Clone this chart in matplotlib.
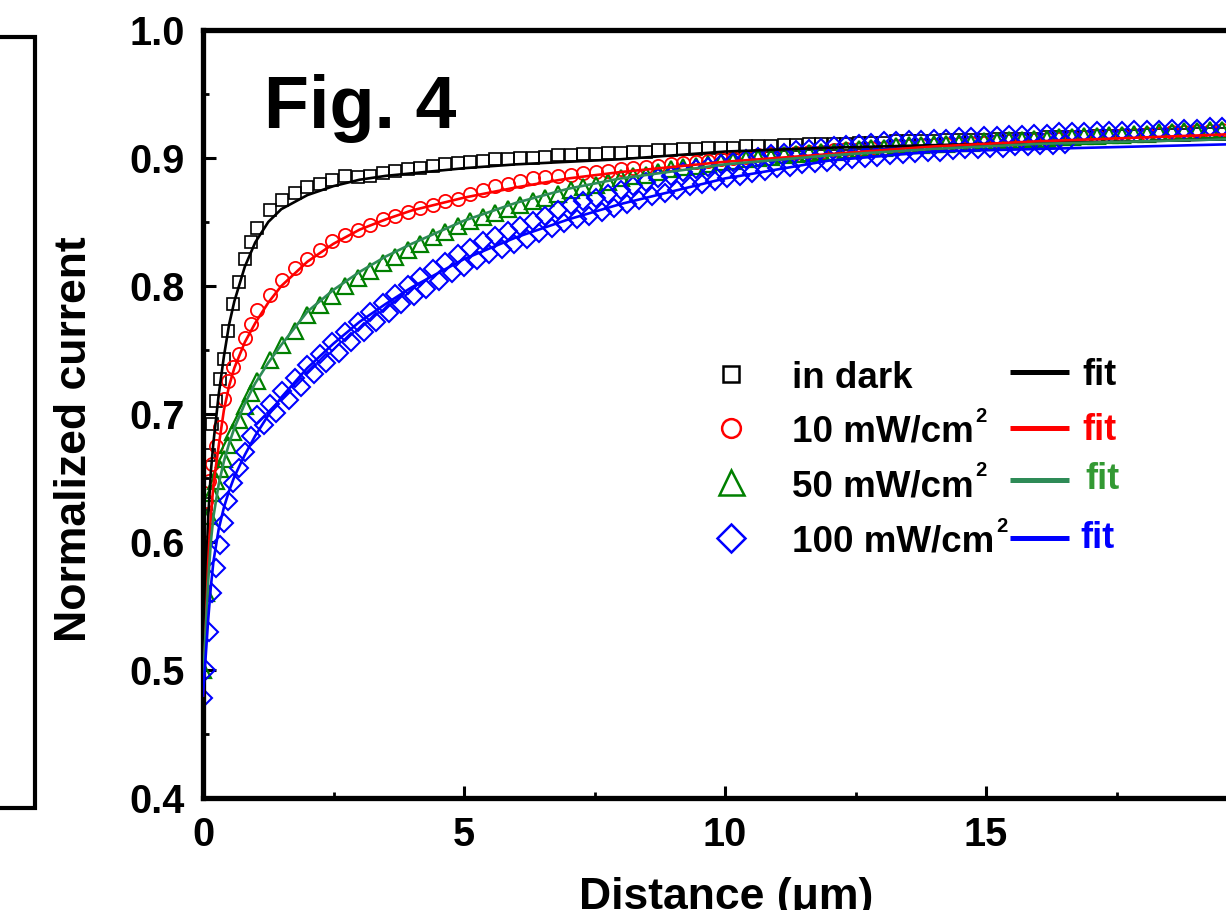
import numpy as np
import matplotlib
matplotlib.use('Agg')
import matplotlib.pyplot as plt
from matplotlib.lines import Line2D
from matplotlib.ticker import MultipleLocator, FormatStrFormatter

plt.rcParams['font.family'] = 'Liberation Sans'
plt.rcParams['font.weight'] = 'bold'

# scan positions (um): fine steps near the edge, then the regular 0.24 um grid
dist_early = [0.0, 0.06, 0.12, 0.18, 0.24, 0.32, 0.40, 0.48, 0.58, 0.68, 0.80, 0.92]
dist = np.concatenate([dist_early, np.arange(1.04, 19.6, 0.24)])
# second pass of the 100 mW/cm2 scan, shifted by half a step
dist_100b = np.arange(1.16, 16.6, 0.24)

# normalized current, in dark
dark = [0.56, 0.63, 0.668, 0.692, 0.71, 0.727, 0.743, 0.765, 0.786, 0.803, 0.821, 0.834,
        0.845, 0.859, 0.867, 0.873, 0.877, 0.880, 0.883, 0.886, 0.885, 0.886,
        0.888, 0.890, 0.891, 0.892, 0.894, 0.895, 0.896, 0.897, 0.898, 0.899,
        0.899, 0.900, 0.900, 0.901, 0.902, 0.902, 0.903, 0.903, 0.904, 0.904,
        0.905, 0.905, 0.906, 0.906, 0.907, 0.907, 0.908, 0.908, 0.908, 0.909,
        0.909, 0.909, 0.910, 0.910, 0.911, 0.911, 0.911, 0.911, 0.912, 0.912,
        0.912, 0.913, 0.913, 0.913, 0.913, 0.914, 0.914, 0.914, 0.914, 0.915,
        0.915, 0.915, 0.915, 0.916, 0.916, 0.916, 0.916, 0.917, 0.917, 0.917,
        0.917, 0.918, 0.918, 0.918, 0.918, 0.919, 0.919, 0.919]

# 10 mW/cm2
p10 = [0.60, 0.632, 0.648, 0.661, 0.675, 0.69, 0.712, 0.726, 0.737, 0.747, 0.759, 0.77,
       0.781, 0.793, 0.805, 0.814, 0.821, 0.828, 0.835, 0.840, 0.844, 0.848,
       0.852, 0.855, 0.858, 0.861, 0.863, 0.866, 0.868, 0.872, 0.875, 0.878,
       0.880, 0.882, 0.884, 0.885, 0.886, 0.887, 0.888, 0.889, 0.890, 0.891,
       0.892, 0.893, 0.894, 0.895, 0.896, 0.897, 0.898, 0.899, 0.900, 0.901,
       0.902, 0.903, 0.903, 0.904, 0.905, 0.905, 0.906, 0.907, 0.907, 0.908,
       0.908, 0.909, 0.909, 0.910, 0.910, 0.911, 0.911, 0.912, 0.912, 0.913,
       0.913, 0.914, 0.914, 0.915, 0.915, 0.916, 0.916, 0.917, 0.917, 0.918,
       0.918, 0.919, 0.919, 0.920, 0.920, 0.921, 0.921, 0.922]

# 50 mW/cm2
p50 = [0.50, 0.56, 0.62, 0.638, 0.648, 0.657, 0.665, 0.676, 0.686, 0.695, 0.706, 0.716,
       0.726, 0.742, 0.754, 0.765, 0.777, 0.785, 0.792, 0.800, 0.806, 0.812,
       0.818, 0.823, 0.828, 0.833, 0.838, 0.842, 0.847, 0.851, 0.854, 0.857,
       0.860, 0.863, 0.866, 0.869, 0.872, 0.875, 0.877, 0.879, 0.881, 0.884,
       0.886, 0.887, 0.889, 0.891, 0.893, 0.894, 0.895, 0.897, 0.898, 0.899,
       0.900, 0.901, 0.902, 0.903, 0.904, 0.905, 0.905, 0.906, 0.907, 0.908,
       0.908, 0.909, 0.910, 0.910, 0.911, 0.911, 0.912, 0.912, 0.913, 0.913,
       0.914, 0.914, 0.915, 0.915, 0.916, 0.916, 0.917, 0.917, 0.918, 0.918,
       0.919, 0.919, 0.920, 0.920, 0.921, 0.921, 0.922, 0.922]

# 100 mW/cm2, first pass
p100 = [0.478, 0.50, 0.53, 0.56, 0.58, 0.598, 0.615, 0.632, 0.646, 0.658, 0.670, 0.683,
        0.699, 0.708, 0.718, 0.728, 0.738, 0.747, 0.756, 0.764, 0.772, 0.780,
        0.787, 0.794, 0.801, 0.807, 0.813, 0.819, 0.825, 0.830, 0.835, 0.839,
        0.843, 0.847, 0.851, 0.855, 0.859, 0.863, 0.866, 0.869, 0.872, 0.875,
        0.878, 0.881, 0.884, 0.886, 0.889, 0.891, 0.893, 0.895, 0.897, 0.899,
        0.901, 0.903, 0.904, 0.906, 0.907, 0.908, 0.909, 0.910, 0.911, 0.912,
        0.913, 0.913, 0.914, 0.914, 0.915, 0.915, 0.916, 0.916, 0.917, 0.917,
        0.918, 0.918, 0.919, 0.919, 0.920, 0.920, 0.920, 0.921, 0.921, 0.921,
        0.922, 0.922, 0.922, 0.923, 0.923, 0.923, 0.924, 0.924]

# 100 mW/cm2, second pass
p100b = [0.691, 0.701, 0.711, 0.721, 0.731, 0.740, 0.748, 0.756, 0.764, 0.772,
         0.779, 0.786, 0.792, 0.798, 0.804, 0.810, 0.815, 0.820, 0.825, 0.829,
         0.833, 0.837, 0.841, 0.845, 0.849, 0.852, 0.855, 0.858, 0.861, 0.864,
         0.867, 0.870, 0.873, 0.875, 0.878, 0.880, 0.882, 0.884, 0.886, 0.888,
         0.890, 0.892, 0.893, 0.895, 0.896, 0.897, 0.898, 0.899, 0.900, 0.901,
         0.902, 0.903, 0.904, 0.905, 0.905, 0.906, 0.907, 0.907, 0.908, 0.908,
         0.909, 0.909, 0.910, 0.910, 0.911]

# fitted curves
fit_x = [0, 0.05, 0.1, 0.15, 0.2, 0.3, 0.4, 0.5, 0.6, 0.8, 1.0, 1.25, 1.5, 2.0,
         2.5, 3.0, 3.5, 4.0, 5.0, 6.0, 7.0, 8.0, 10.0, 12.0, 14.0, 16.0, 18.0, 20.0]
fit_dark = [0.49, 0.565, 0.62, 0.655, 0.678, 0.715, 0.745, 0.77, 0.788, 0.815, 0.834, 0.850,
            0.860, 0.871, 0.878, 0.883, 0.886, 0.888, 0.892, 0.895, 0.897, 0.899,
            0.905, 0.908, 0.910, 0.912, 0.913, 0.915]
fit_10 = [0.48, 0.53, 0.585, 0.62, 0.645, 0.675, 0.703, 0.722, 0.736, 0.756, 0.771, 0.787,
          0.800, 0.819, 0.833, 0.844, 0.852, 0.859, 0.869, 0.877, 0.884, 0.889,
          0.897, 0.903, 0.909, 0.913, 0.916, 0.919]
fit_50 = [0.49, 0.53, 0.57, 0.60, 0.62, 0.645, 0.663, 0.677, 0.689, 0.708, 0.724, 0.740,
          0.754, 0.780, 0.797, 0.811, 0.823, 0.833, 0.851, 0.865, 0.876, 0.884,
          0.895, 0.902, 0.907, 0.911, 0.913, 0.915]
fit_100 = [0.48, 0.51, 0.54, 0.565, 0.585, 0.61, 0.627, 0.640, 0.651, 0.668, 0.683, 0.699,
           0.713, 0.736, 0.755, 0.772, 0.786, 0.799, 0.821, 0.838, 0.852, 0.864,
           0.884, 0.898, 0.905, 0.907, 0.909, 0.911]

fig = plt.figure(figsize=(12.26, 9.10), dpi=100)
ax = fig.add_axes([0.1656, 0.1231, 0.8516, 0.8440])

# measured points
ax.plot(dist, dark, ls='none', marker='s', ms=9, mfc='none', mec='black', mew=1.2)
ax.plot(dist, p10, ls='none', marker='o', ms=9.5, mfc='none', mec='red', mew=1.3)
ax.plot(dist, p50, ls='none', marker='^', ms=12, mfc='none', mec='#008000', mew=1.6)
ax.plot(dist, p100, ls='none', marker='D', ms=9.5, mfc='none', mec='blue', mew=1.5)
ax.plot(dist_100b, p100b, ls='none', marker='D', ms=9.5, mfc='none', mec='blue', mew=1.5)

# fits on top
ax.plot(fit_x, fit_dark, color='black', lw=1.9, zorder=4)
ax.plot(fit_x, fit_10, color='red', lw=1.9, zorder=4)
ax.plot(fit_x, fit_50, color='#2e8b57', lw=1.9, zorder=4)
ax.plot(fit_x, fit_100, color='blue', lw=1.9, zorder=4)

ax.set_xlim(0, 20)
ax.set_ylim(0.4, 1.0)
ax.set_xticks([0, 5, 10, 15, 20])
ax.set_xticklabels(['0', '5', '10', '15', ''])
ax.set_yticks([0.4, 0.5, 0.6, 0.7, 0.8, 0.9, 1.0])
ax.yaxis.set_major_formatter(FormatStrFormatter('%.1f'))
ax.xaxis.set_minor_locator(MultipleLocator(2.5))
ax.yaxis.set_minor_locator(MultipleLocator(0.05))
ax.tick_params(which='both', direction='in', top=False, right=False, labelsize=28.5, pad=13)
ax.tick_params(which='major', length=9, width=2.2)
ax.tick_params(which='minor', length=4.5, width=2.0)
for sp in ax.spines.values():
    sp.set_linewidth(3.8)

fig.text(75 / 1226, 1 - 439 / 910, 'Normalized current', rotation=90,
         ha='center', va='center', fontsize=32)
fig.text(726 / 1226, 0.001, 'Distance (\u03bcm)', ha='center', va='baseline', fontsize=32)

ax.text(0.0584, 0.8724, 'Fig. 4', transform=ax.transAxes, fontsize=53, va='baseline')

# frame edge of the neighbouring panel
fig.add_artist(Line2D([0, 35 / 1226, 35 / 1226, 0],
                      [1 - 37 / 910, 1 - 37 / 910, 1 - 808 / 910, 1 - 808 / 910],
                      transform=fig.transFigure, color='black', lw=3, solid_joinstyle='miter'))

# legend drawn by hand: symbol + label, then fit line + coloured "fit"
labels = ['in dark', '10 mW/cm', '50 mW/cm', '100 mW/cm']
powers = ['', '2', '2', '2']
markers = ['s', 'o', '^', 'D']
mcolors = ['black', 'red', '#008000', 'blue']
msizes = [11.5, 13.5, 18, 14]
lcolors = ['black', 'red', '#2e8b57', 'blue']
fcolors = ['black', 'red', '#339933', 'blue']
sym_y = [0.5514, 0.4818, 0.4108, 0.339]
txt_y = [0.534, 0.4635, 0.392, 0.3203]
line_y = [0.555, 0.4814, 0.414, 0.339]
fit_y = [0.5378, 0.4661, 0.4023, 0.3255]
fit_tx = [0.8426, 0.8426, 0.845, 0.8405]

for i in range(4):
    ax.plot([0.5057], [sym_y[i]], transform=ax.transAxes, ls='none', marker=markers[i],
            ms=msizes[i], mfc='none', mec=mcolors[i], mew=1.8, clip_on=False)
    t = ax.text(0.564, txt_y[i], labels[i], transform=ax.transAxes, fontsize=26.5,
                va='baseline')
    if powers[i]:
        # small raised "2" right after the unit
        ax.annotate(powers[i], xy=(1, 0), xycoords=t, xytext=(1.5, 20.5),
                    textcoords='offset points', fontsize=14.5, va='baseline')
    ax.plot([0.773, 0.8295], [line_y[i], line_y[i]], transform=ax.transAxes,
            color=lcolors[i], lw=3.6, clip_on=False, solid_capstyle='butt')
    ax.text(fit_tx[i], fit_y[i], 'fit', transform=ax.transAxes, fontsize=26,
            color=fcolors[i], va='baseline')

fig.savefig('out.png', dpi=100)
